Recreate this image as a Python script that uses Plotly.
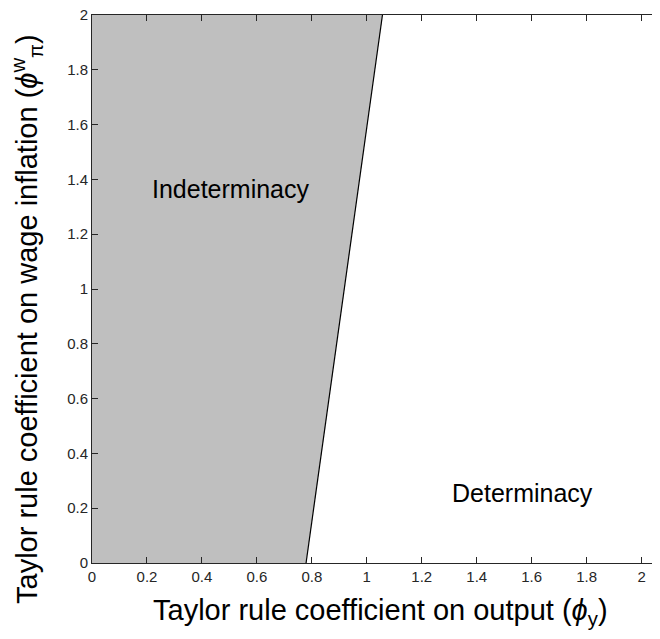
import plotly.graph_objects as go

# boundary between determinacy and indeterminacy
phi_w_pi = [0.0, 2.0]
phi_y_boundary = [0.779, 1.057]

region_labels = ["Indeterminacy", "Determinacy"]
label_x = [0.505, 1.565]
label_y = [1.365, 0.255]

x_ticks = [0, 0.2, 0.4, 0.6, 0.8, 1, 1.2, 1.4, 1.6, 1.8, 2]
y_ticks = [0, 0.2, 0.4, 0.6, 0.8, 1, 1.2, 1.4, 1.6, 1.8, 2]

x_title = "Taylor rule coefficient on output (<i>ϕ</i><sub>y</sub>)"
y_title = "Taylor rule coefficient on wage inflation (<i>ϕ</i><sup>w</sup><sub>π</sub>)"

FONT = "Liberation Sans, Arial, Helvetica, sans-serif"

fig = go.Figure()
poly_x = [0] + phi_y_boundary + [0, 0]
poly_y = [phi_w_pi[0]] + phi_w_pi + [phi_w_pi[-1], phi_w_pi[0]]
fig.add_trace(go.Scatter(x=poly_x, y=poly_y, fill="toself", fillcolor="#bfbfbf",
                         line=dict(width=0), mode="lines", hoverinfo="skip", showlegend=False))
fig.add_trace(go.Scatter(x=phi_y_boundary, y=phi_w_pi, mode="lines",
                         line=dict(color="black", width=1.2), showlegend=False))

for t, x, y in zip(region_labels, label_x, label_y):
    fig.add_annotation(x=x, y=y, text=t, showarrow=False,
                       font=dict(family=FONT, size=25, color="black"))

# axis titles
fig.add_annotation(xref="paper", yref="paper", x=0.5, y=0, xshift=4, yshift=-49,
                   xanchor="center", yanchor="middle", showarrow=False, text=x_title,
                   font=dict(family=FONT, size=29, color="black"))
fig.add_annotation(xref="paper", yref="paper", x=0, y=0.5, xshift=-65, yshift=-30,
                   xanchor="center", yanchor="middle", showarrow=False, text=y_title,
                   textangle=-90, font=dict(family=FONT, size=29, color="black"))

axis_common = dict(showgrid=False, zeroline=False, showline=True, linecolor="#262626",
                   linewidth=1, ticks="inside", ticklen=6, tickcolor="#262626",
                   automargin=False, ticklabeloverflow="allow",
                   tickfont=dict(family=FONT, size=15, color="#262626"))

fig.update_xaxes(range=[0, 2.067], tickvals=x_ticks, ticktext=[f"{v:g}" for v in x_ticks],
                 mirror="ticks", **axis_common)
fig.update_yaxes(range=[0, 2], tickvals=y_ticks, ticktext=[f"{v:g}" for v in y_ticks],
                 **axis_common)

fig.update_layout(width=660, height=639, plot_bgcolor="white", paper_bgcolor="white",
                  margin=dict(l=84, r=8, t=7, b=84), showlegend=False)

fig.write_html("out.html")
